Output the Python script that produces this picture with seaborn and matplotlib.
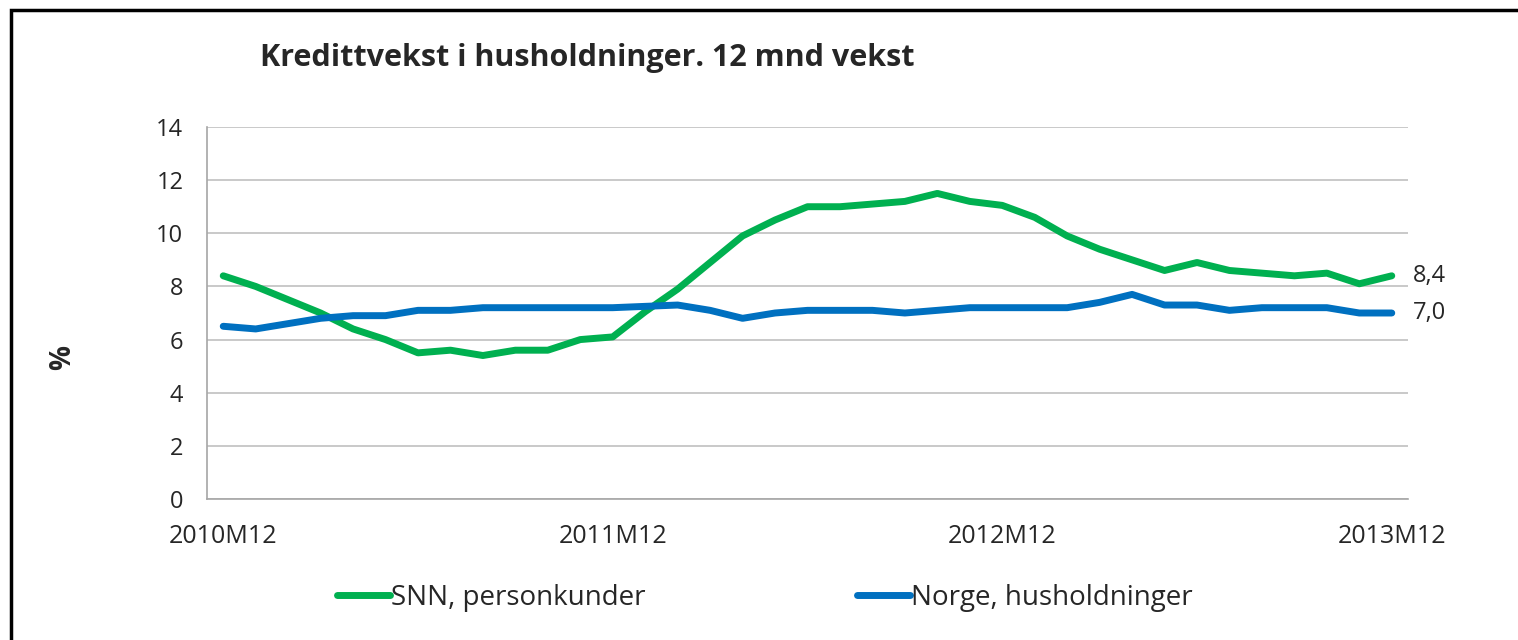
import matplotlib
matplotlib.use("Agg")
import matplotlib.pyplot as plt
import seaborn as sns
import pandas as pd
from matplotlib.patches import Rectangle

# Monthly 12-month credit growth, 2010M12 - 2013M12
months = [f"{y}M{m:02d}" for y, m in
          [(2010, 12)] + [(yy, mm) for yy in (2011, 2012, 2013) for mm in range(1, 13)]]
snn = [8.4, 8.0, 7.5, 7.0, 6.4, 6.0, 5.5, 5.6, 5.4, 5.6, 5.6, 6.0,
       6.1, 7.05, 7.9, 8.9, 9.9, 10.5, 11.0, 11.0, 11.1, 11.2, 11.5, 11.2,
       11.05, 10.6, 9.9, 9.4, 9.0, 8.6, 8.9, 8.6, 8.5, 8.4, 8.5, 8.1, 8.4]
norge = [6.5, 6.4, 6.6, 6.8, 6.9, 6.9, 7.1, 7.1, 7.2, 7.2, 7.2, 7.2,
         7.2, 7.25, 7.3, 7.1, 6.8, 7.0, 7.1, 7.1, 7.1, 7.0, 7.1, 7.2,
         7.2, 7.2, 7.2, 7.4, 7.7, 7.3, 7.3, 7.1, 7.2, 7.2, 7.2, 7.0, 7.0]
series_names = ["SNN, personkunder", "Norge, husholdninger"]
colors = ["#00b050", "#0070c0"]
tick_labels = ["2010M12", "2011M12", "2012M12", "2013M12"]
end_labels = ["8,4", "7,0"]

df = pd.DataFrame({
    "idx": list(range(len(months))) * 2,
    "month": months * 2,
    "value": snn + norge,
    "series": [series_names[0]] * len(snn) + [series_names[1]] * len(norge),
})

sns.set_style("white")
plt.rcParams["font.family"] = ["Open Sans", "DejaVu Sans"]

fig = plt.figure(figsize=(15.18, 6.4), dpi=100)
ax = fig.add_axes([207 / 1518, 1 - 499 / 640, (1408 - 207) / 1518, (499 - 127) / 640])

sns.lineplot(data=df, x="idx", y="value", hue="series", palette=colors,
             linewidth=5, ax=ax, legend=False, solid_capstyle="round",
             solid_joinstyle="round")

ax.set_xlim(-0.5, len(months) - 0.5)
ax.set_ylim(0, 14)
ax.set_yticks(range(0, 15, 2))
ax.set_xticks([months.index(t) for t in tick_labels])
ax.set_xticklabels(tick_labels)
ax.tick_params(axis="x", length=0, pad=18, labelsize=18)
ax.tick_params(axis="y", length=0, pad=17, labelsize=17)
ax.yaxis.grid(True, color="#c0c0c0", linewidth=1.2)
ax.set_axisbelow(True)
for side in ["top", "right"]:
    ax.spines[side].set_visible(False)
for side in ["left", "bottom"]:
    ax.spines[side].set_color("#a6a6a6")
    ax.spines[side].set_linewidth(1.2)
ax.set_xlabel("")
ax.set_ylabel("")

# end-of-series value labels
for vals, lab in zip([snn, norge], end_labels):
    ax.annotate(lab, xy=(len(vals) - 1, vals[-1]), xytext=(15, 0),
                textcoords="offset points", va="center", ha="left", fontsize=17)

fig.text(63 / 1518, 1 - 357 / 640, "%", rotation=90, ha="center", va="center",
         fontsize=20, fontweight="bold")
fig.text(260 / 1518, 1 - 58 / 640, "Kredittvekst i husholdninger. 12 mnd vekst",
         ha="left", va="center", fontsize=22, fontweight="bold")

handles = [plt.Line2D([], [], color=c, linewidth=5, solid_capstyle="round")
           for c in colors]
fig.legend(handles, series_names, loc="center", bbox_to_anchor=(765 / 1518, 1 - 598 / 640),
           ncol=2, frameon=False, fontsize=20, handlelength=1.9, handletextpad=0.05,
           columnspacing=7.6)

# outer frame
fig.patches.append(Rectangle((11 / 1518, -0.5), 2, 0.5 + 1 - 10 / 640,
                             transform=fig.transFigure, fill=False,
                             edgecolor="black", linewidth=2.5))

fig.savefig("out.png", dpi=100)
